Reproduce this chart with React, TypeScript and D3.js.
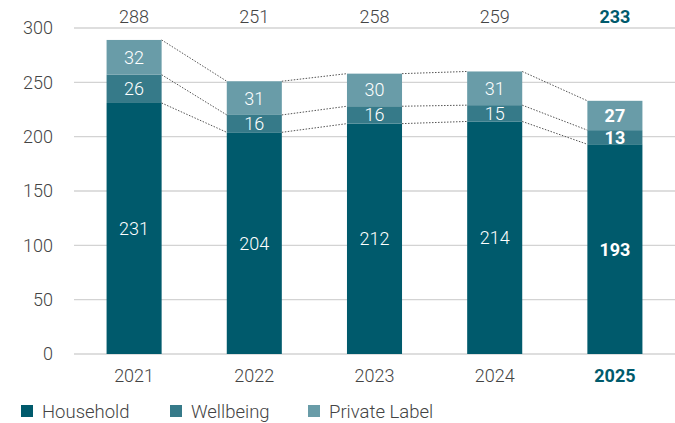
import React from "react";
import * as d3 from "d3";

const years = ["2021", "2022", "2023", "2024", "2025"];
const household = [231, 204, 212, 214, 193];
const wellbeing = [26, 16, 16, 15, 13];
const privateLabel = [32, 31, 30, 31, 27];
const totals = [288, 251, 258, 259, 233];
const yTicks = [0, 50, 100, 150, 200, 250, 300];
const seriesNames = ["Household", "Wellbeing", "Private Label"];
const colors = ["#005a6c", "#367a89", "#699ca8"];
const accent = "#005a6c";

export default function App() {
  const W = 675, H = 423;
  const x = d3.scaleBand<string>().domain(years).range([74, 675]).paddingInner(0.542).paddingOuter(0.271);
  const y = d3.scaleLinear().domain([0, 300]).range([354, 28]);
  const data = years.map((yr, i) => ({ year: yr, Household: household[i], Wellbeing: wellbeing[i], "Private Label": privateLabel[i] }));
  const stack = d3.stack<any>().keys(seriesNames)(data);
  const font = "Roboto, 'Liberation Sans', sans-serif";
  const bw = x.bandwidth();
  const fs = 18;
  const isLast = (i: number) => i === years.length - 1;
  const legendX = [21, 170, 308];

  return (
    <svg width={W} height={H} style={{ position: "absolute", left: 0, top: 0 }} fontFamily={font}>
      {yTicks.map((t) => (
        <g key={t}>
          <line x1={74} x2={675} y1={y(t)} y2={y(t)} stroke="#d3d3d3" strokeWidth={1.3} />
          <text x={53} y={y(t)} dy="0.35em" textAnchor="end" fontSize={fs} fontWeight={300} fill="#444">{t}</text>
        </g>
      ))}
      {stack.map((layer, li) =>
        layer.map((d, i) => (
          <rect key={`${li}-${i}`} x={x(years[i])} y={y(d[1])} width={bw} height={y(d[0]) - y(d[1])} fill={colors[li]} />
        ))
      )}
      {stack.map((layer, li) =>
        layer.slice(0, -1).map((d, i) => {
          const n = layer[i + 1];
          return (
            <line key={`c${li}-${i}`} x1={(x(years[i]) as number) + bw} y1={y(d[1])} x2={x(years[i + 1]) as number} y2={y(n[1])}
              stroke="#555" strokeWidth={1} strokeDasharray="1.5,1.5" />
          );
        })
      )}
      {stack.map((layer, li) =>
        layer.map((d, i) => (
          <text key={`l${li}-${i}`} x={(x(years[i]) as number) + bw / 2} y={y((d[0] + d[1]) / 2)} dy="0.36em" textAnchor="middle"
            fontSize={fs} fontWeight={isLast(i) ? 700 : 300} fill="#fff">{d[1] - d[0]}</text>
        ))
      )}
      {totals.map((t, i) => (
        <text key={`t${i}`} x={(x(years[i]) as number) + bw / 2} y={17} dy="0.36em" textAnchor="middle" fontSize={fs}
          fontWeight={isLast(i) ? 700 : 300} fill={isLast(i) ? accent : "#444"}>{t}</text>
      ))}
      {years.map((yr, i) => (
        <text key={`y${i}`} x={(x(yr) as number) + bw / 2} y={376} dy="0.36em" textAnchor="middle" fontSize={fs}
          fontWeight={isLast(i) ? 700 : 300} fill={isLast(i) ? accent : "#444"}>{yr}</text>
      ))}
      {seriesNames.map((s, i) => {
        const lx = legendX[i];
        return (
          <g key={s}>
            <rect x={lx} y={405} width={12} height={12} fill={colors[i]} />
            <text x={lx + 21} y={411} dy="0.36em" fontSize={18.5} fontWeight={300} fill="#444">{s}</text>
          </g>
        );
      })}
    </svg>
  );
}
